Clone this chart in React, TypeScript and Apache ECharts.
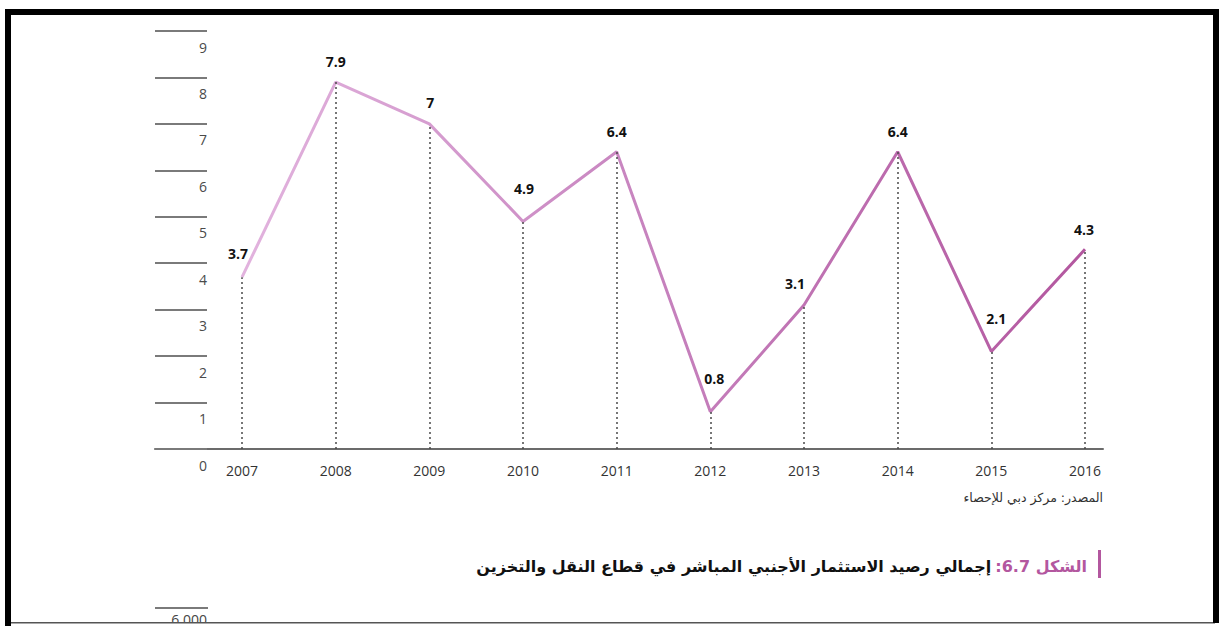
import React, { useEffect, useRef } from "react";
import * as echarts from "echarts";

const years = [2007, 2008, 2009, 2010, 2011, 2012, 2013, 2014, 2015, 2016];
const values = [3.7, 7.9, 7, 4.9, 6.4, 0.8, 3.1, 6.4, 2.1, 4.3];
const labelOffsets = [[-4, -11], [0, -8], [1, -9], [1, -20], [0, -8], [4, -21], [-9, -9], [0, -8], [5, -20], [-1, -7]];
const sourceText = "المصدر: مركز دبي للإحصاء";
const titlePrefix = "الشكل 6.7:";
const titleMain = "إجمالي رصيد الاستثمار الأجنبي المباشر في قطاع النقل والتخزين";
const nextChartTick = "6,000";

const RLE = "\u202B";
const PDF = "\u202C";
const NUM_FONT = "'Open Sans', 'DejaVu Sans', sans-serif";
const AR_FONT = "'DejaVu Sans', 'Noto Sans', sans-serif";
const TITLE_FONT = "bold 16px " + AR_FONT;

function measure(text: string, font: string): number {
  const c = document.createElement("canvas");
  const ctx = c.getContext("2d");
  if (!ctx) return 80;
  ctx.font = font;
  return ctx.measureText(text).width;
}

export default function App() {
  const ref = useRef<HTMLDivElement>(null);
  useEffect(() => {
    if (!ref.current) return;
    const chart = echarts.init(ref.current, null, { renderer: "svg" });
    const points = years.map((y, i) => [y, values[i]]);
    const drops = years.map((y, i) => [
      { coord: [y, 0] },
      { coord: [y, values[i]] },
    ]);
    const prefixRight = 1087;
    const prefixW = measure(titlePrefix, TITLE_FONT);
    const mainRight = prefixRight - prefixW - 4;
    chart.setOption({
      animation: false,
      backgroundColor: "#ffffff",
      grid: { left: 155, right: 116, top: 31, bottom: 177, containLabel: false },
      xAxis: {
        type: "value",
        min: 2006.071,
        max: 2016.192,
        splitLine: { show: false },
        axisLine: { show: true, lineStyle: { color: "#6b6b6b", width: 2 } },
        axisTick: { show: false },
        axisLabel: {
          customValues: years,
          formatter: (v: number) => String(Math.round(v)),
          color: "#333333",
          fontSize: 14,
          fontFamily: NUM_FONT,
          margin: 14,
        },
      },
      yAxis: {
        type: "value",
        min: 0,
        max: 9,
        interval: 1,
        splitLine: { show: false },
        axisLine: { show: false },
        axisTick: {
          show: true,
          inside: true,
          length: 52,
          lineStyle: { color: "#7a7a7a", width: 2 },
        },
        axisLabel: {
          inside: true,
          align: "right",
          margin: 52,
          verticalAlign: "top",
          padding: [9, 0, 0, 0],
          color: "#4a4a4a",
          fontSize: 14,
          fontFamily: NUM_FONT,
        },
      },
      series: [
        {
          type: "line",
          data: points,
          symbol: "circle",
          symbolSize: 1,
          showSymbol: true,
          itemStyle: { color: "rgba(0,0,0,0)" },
          z: 3,
          lineStyle: {
            width: 3,
            color: new echarts.graphic.LinearGradient(0, 0, 1, 0, [
              { offset: 0, color: "#e2b3de" },
              { offset: 0.5, color: "#c681bd" },
              { offset: 1, color: "#b3579f" },
            ]),
          },
          label: {
            show: true,
            position: "top",
            formatter: (p: any) => String(p.value[1]),
            color: "#111111",
            fontWeight: "bold",
            fontSize: 14,
            fontFamily: NUM_FONT,
          },
          labelLayout: (params: any) => {
            const o = labelOffsets[params.dataIndex] || [0, 0];
            return { dx: o[0], dy: o[1], hideOverlap: false };
          },
          markLine: {
            silent: true,
            symbol: "none",
            label: { show: false },
            lineStyle: { color: "#4a4a4a", type: [2, 3], width: 1.5 },
            data: drops,
          },
        },
      ],
      graphic: [
        {
          type: "text",
          x: 1103,
          y: 497,
          style: {
            text: RLE + sourceText + PDF,
            fill: "#333333",
            font: "12.5px " + AR_FONT,
            align: "right",
            verticalAlign: "middle",
          },
        },
        {
          type: "rect",
          shape: { x: 1098, y: 550, width: 3, height: 28 },
          style: { fill: "#b3579f" },
        },
        {
          type: "text",
          x: prefixRight,
          y: 566,
          style: {
            text: RLE + titlePrefix + PDF,
            fill: "#b3579f",
            font: TITLE_FONT,
            align: "right",
            verticalAlign: "middle",
          },
        },
        {
          type: "text",
          x: mainRight,
          y: 566,
          style: {
            text: RLE + titleMain + PDF,
            fill: "#111111",
            font: TITLE_FONT,
            align: "right",
            verticalAlign: "middle",
          },
        },
        {
          type: "line",
          shape: { x1: 155, y1: 608, x2: 208, y2: 608 },
          style: { stroke: "#7a7a7a", lineWidth: 2 },
        },
        {
          type: "text",
          x: 207,
          y: 612,
          style: {
            text: nextChartTick,
            fill: "#444444",
            font: "14px " + NUM_FONT,
            align: "right",
            verticalAlign: "top",
          },
        },
        {
          type: "rect",
          shape: { x: 0, y: 623, width: 1219, height: 3 },
          style: { fill: "#ffffff" },
          z: 100,
        },
        {
          type: "rect",
          shape: { x: 5, y: 622, width: 1210, height: 1.5 },
          style: { fill: "#555555" },
          z: 101,
        },
        {
          type: "rect",
          shape: { x: 5, y: 9, width: 1214, height: 6 },
          style: { fill: "#000000" },
          z: 101,
        },
        {
          type: "rect",
          shape: { x: 5, y: 9, width: 6, height: 617 },
          style: { fill: "#000000" },
          z: 101,
        },
        {
          type: "rect",
          shape: { x: 1213, y: 9, width: 6, height: 614 },
          style: { fill: "#000000" },
          z: 101,
        },
      ],
    });
    return () => chart.dispose();
  }, []);
  return (
    <div
      ref={ref}
      style={{ position: "fixed", left: 0, top: 0, width: 1219, height: 626, background: "#fff" }}
    />
  );
}
